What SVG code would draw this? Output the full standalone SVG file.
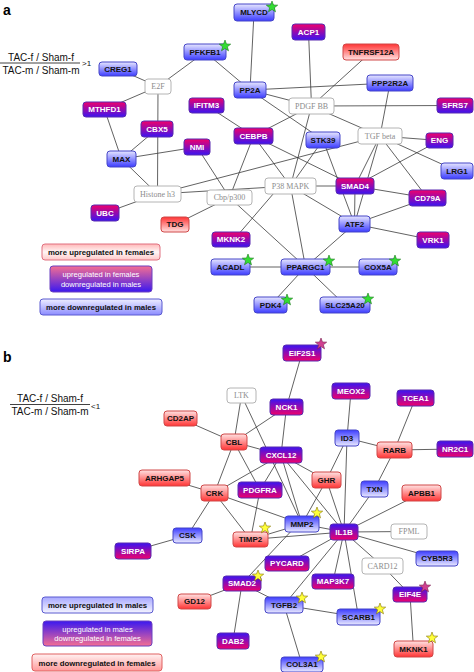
<svg xmlns="http://www.w3.org/2000/svg" xmlns:xlink="http://www.w3.org/1999/xlink" width="474" height="672" viewBox="0 0 474 672">
<defs>
<linearGradient id="gPa" x1="0" y1="0" x2="0" y2="1"><stop offset="0" stop-color="#f0006a"/><stop offset="1" stop-color="#3a14f2"/></linearGradient>
<linearGradient id="gPb" x1="0" y1="0" x2="0" y2="1"><stop offset="0" stop-color="#3a14f2"/><stop offset="1" stop-color="#f0006a"/></linearGradient>
<linearGradient id="gBa" x1="0" y1="0" x2="0" y2="1"><stop offset="0" stop-color="#e6e6ff"/><stop offset="1" stop-color="#3c3cff"/></linearGradient>
<linearGradient id="gBb" x1="0" y1="0" x2="0" y2="1"><stop offset="0" stop-color="#3c3cff"/><stop offset="1" stop-color="#eaeaff"/></linearGradient>
<linearGradient id="gRa" x1="0" y1="0" x2="0" y2="1"><stop offset="0" stop-color="#ff3434"/><stop offset="1" stop-color="#ffe2e2"/></linearGradient>
<linearGradient id="gRb" x1="0" y1="0" x2="0" y2="1"><stop offset="0" stop-color="#ffe2e2"/><stop offset="1" stop-color="#ff3434"/></linearGradient>
<linearGradient id="gL1a" x1="0" y1="0" x2="0" y2="1"><stop offset="0" stop-color="#ffb8b8"/><stop offset="0.5" stop-color="#fff6f6"/><stop offset="1" stop-color="#ffc8c8"/></linearGradient>
<linearGradient id="gL2a" x1="0" y1="0" x2="0" y2="1"><stop offset="0" stop-color="#f56e92"/><stop offset="1" stop-color="#3a18f0"/></linearGradient>
<linearGradient id="gL3a" x1="0" y1="0" x2="0" y2="1"><stop offset="0" stop-color="#eeeeff"/><stop offset="1" stop-color="#8c8cff"/></linearGradient>
<linearGradient id="gL1b" x1="0" y1="0" x2="0" y2="1"><stop offset="0" stop-color="#a8a8ff"/><stop offset="1" stop-color="#f4f4ff"/></linearGradient>
<linearGradient id="gL2b" x1="0" y1="0" x2="0" y2="1"><stop offset="0" stop-color="#3a18f0"/><stop offset="1" stop-color="#f56e92"/></linearGradient>
<linearGradient id="gL3b" x1="0" y1="0" x2="0" y2="1"><stop offset="0" stop-color="#fff2f2"/><stop offset="1" stop-color="#ff9a9a"/></linearGradient>
<path id="star" d="M0,-6 L1.47,-2.02 L5.71,-1.85 L2.38,0.77 L3.53,4.85 L0,2.5 L-3.53,4.85 L-2.38,0.77 L-5.71,-1.85 L-1.47,-2.02 Z"/>
</defs>
<style>
rect{rx:3px;ry:3px;stroke-width:1}
.pa{fill:url(#gPa);stroke:#5a2ab0}
.pb{fill:url(#gPb);stroke:#5a2ab0}
.ba{fill:url(#gBa);stroke:#4646c8}
.bb{fill:url(#gBb);stroke:#4646c8}
.ra{fill:url(#gRa);stroke:#d04848}
.rb{fill:url(#gRb);stroke:#d04848}
.gr{fill:#ffffff;stroke:#b4b4b4}
text{font-family:"Liberation Sans",Arial,sans-serif;font-size:8px;font-weight:bold;text-anchor:middle}
.w{fill:#ffffff}
.k{fill:#111111}
.gt{font-family:"Liberation Serif","Times New Roman",serif;font-weight:normal;fill:#8c8c8c}
.lab{font-size:14px;text-anchor:start;fill:#000}
.fr{font-size:10px;font-weight:normal;fill:#111}
.cmp{font-size:8px;font-weight:normal;text-anchor:start;fill:#111}
.lg{font-size:7.8px}
.lgw{font-size:7.6px;font-weight:normal;fill:#fff}
#edges line{stroke:#3a3a3a;stroke-width:0.8}
.sg{fill:#33dd33;stroke:#1c7a1c;stroke-width:0.6}
.sy{fill:#ffff3a;stroke:#857400;stroke-width:0.6}
.sp{fill:#d04090;stroke:#7a2050;stroke-width:0.6}
</style>
<rect x="0" y="0" width="474" height="672" fill="#ffffff" style="rx:0;ry:0;stroke:none"/>

<text class="lab" x="3" y="15">a</text>
<text class="fr" x="41" y="61">TAC-f / Sham-f</text>
<line x1="0" y1="63" x2="80" y2="63" stroke="#111" stroke-width="0.8"/>
<text class="fr" x="41" y="74">TAC-m / Sham-m</text>
<text class="cmp" x="82" y="66">&gt;1</text>

<text class="lab" x="3" y="362">b</text>
<text class="fr" x="50" y="402">TAC-f / Sham-f</text>
<line x1="10" y1="404.5" x2="90" y2="404.5" stroke="#111" stroke-width="0.8"/>
<text class="fr" x="50" y="415">TAC-m / Sham-m</text>
<text class="cmp" x="91" y="409">&lt;1</text>

<g id="edges">
<line x1="118" y1="69" x2="158" y2="86.5"/>
<line x1="205" y1="52" x2="158" y2="86.5"/>
<line x1="205" y1="52" x2="250" y2="90"/>
<line x1="158" y1="86.5" x2="104.5" y2="109.5"/>
<line x1="158" y1="86.5" x2="157.5" y2="194"/>
<line x1="104.5" y1="109.5" x2="121.5" y2="159"/>
<line x1="157" y1="129" x2="121.5" y2="159"/>
<line x1="121.5" y1="159" x2="197" y2="147"/>
<line x1="121.5" y1="159" x2="157.5" y2="194"/>
<line x1="197" y1="147" x2="229.5" y2="197.5"/>
<line x1="157.5" y1="194" x2="105" y2="213"/>
<line x1="157.5" y1="194" x2="290.5" y2="186"/>
<line x1="157.5" y1="194" x2="380" y2="136"/>
<line x1="206.5" y1="105.5" x2="253.5" y2="136"/>
<line x1="254" y1="12.5" x2="250" y2="90"/>
<line x1="250" y1="90" x2="390" y2="83"/>
<line x1="250" y1="90" x2="311.5" y2="106"/>
<line x1="250" y1="90" x2="323" y2="140"/>
<line x1="308.5" y1="32" x2="311.5" y2="106"/>
<line x1="371" y1="52" x2="311.5" y2="106"/>
<line x1="311.5" y1="106" x2="455" y2="105.5"/>
<line x1="311.5" y1="106" x2="253.5" y2="136"/>
<line x1="311.5" y1="106" x2="380" y2="136"/>
<line x1="311.5" y1="106" x2="290.5" y2="186"/>
<line x1="390" y1="83" x2="380" y2="136"/>
<line x1="380" y1="136" x2="439.5" y2="140.5"/>
<line x1="380" y1="136" x2="457" y2="171"/>
<line x1="380" y1="136" x2="355" y2="186"/>
<line x1="380" y1="136" x2="354.5" y2="224"/>
<line x1="380" y1="136" x2="427.5" y2="198"/>
<line x1="439.5" y1="140.5" x2="355" y2="186"/>
<line x1="253.5" y1="136" x2="229.5" y2="197.5"/>
<line x1="253.5" y1="136" x2="290.5" y2="186"/>
<line x1="253.5" y1="136" x2="355" y2="186"/>
<line x1="323" y1="140" x2="290.5" y2="186"/>
<line x1="323" y1="140" x2="354.5" y2="224"/>
<line x1="290.5" y1="186" x2="355" y2="186"/>
<line x1="290.5" y1="186" x2="354.5" y2="224"/>
<line x1="290.5" y1="186" x2="305.5" y2="267"/>
<line x1="280" y1="186" x2="234" y2="239.5"/>
<line x1="229.5" y1="197.5" x2="175" y2="224.5"/>
<line x1="229.5" y1="197.5" x2="305.5" y2="267"/>
<line x1="355" y1="186" x2="354.5" y2="224"/>
<line x1="355" y1="186" x2="427.5" y2="198"/>
<line x1="354.5" y1="224" x2="427.5" y2="198"/>
<line x1="354.5" y1="224" x2="433" y2="240"/>
<line x1="354.5" y1="224" x2="305.5" y2="267"/>
<line x1="305.5" y1="267" x2="230.5" y2="267"/>
<line x1="305.5" y1="267" x2="378" y2="267"/>
<line x1="305.5" y1="267" x2="270.5" y2="305"/>
<line x1="305.5" y1="267" x2="345" y2="305"/>

<line x1="302" y1="353" x2="286.5" y2="407"/>
<line x1="286.5" y1="407" x2="281" y2="455"/>
<line x1="241.5" y1="395.5" x2="234" y2="442"/>
<line x1="241.5" y1="395.5" x2="302" y2="524"/>
<line x1="286.5" y1="407" x2="234" y2="442"/>
<line x1="234" y1="442" x2="281" y2="455"/>
<line x1="180.5" y1="418.5" x2="234" y2="442"/>
<line x1="234" y1="442" x2="214.5" y2="493"/>
<line x1="234" y1="442" x2="260" y2="490"/>
<line x1="164.5" y1="478" x2="214.5" y2="493"/>
<line x1="214.5" y1="493" x2="281" y2="455"/>
<line x1="214.5" y1="493" x2="302" y2="524"/>
<line x1="214.5" y1="493" x2="250.5" y2="539.5"/>
<line x1="214.5" y1="493" x2="187.5" y2="535.5"/>
<line x1="187.5" y1="535.5" x2="133" y2="551"/>
<line x1="281" y1="455" x2="260" y2="490"/>
<line x1="281" y1="455" x2="302" y2="524"/>
<line x1="281" y1="455" x2="344" y2="532"/>
<line x1="281" y1="455" x2="326.5" y2="480"/>
<line x1="260" y1="490" x2="250.5" y2="539.5"/>
<line x1="326.5" y1="480" x2="302" y2="524"/>
<line x1="326.5" y1="480" x2="344" y2="532"/>
<line x1="347" y1="438" x2="326.5" y2="480"/>
<line x1="347" y1="438" x2="344" y2="532"/>
<line x1="351" y1="391" x2="347" y2="438"/>
<line x1="347" y1="438" x2="394.5" y2="450"/>
<line x1="394.5" y1="450" x2="415.5" y2="398"/>
<line x1="394.5" y1="450" x2="455" y2="449"/>
<line x1="394.5" y1="450" x2="374.5" y2="489"/>
<line x1="374.5" y1="489" x2="344" y2="532"/>
<line x1="421.5" y1="493" x2="344" y2="532"/>
<line x1="344" y1="532" x2="409" y2="531.5"/>
<line x1="344" y1="532" x2="437" y2="558.5"/>
<line x1="344" y1="532" x2="382.5" y2="566"/>
<line x1="344" y1="532" x2="358.5" y2="617"/>
<line x1="344" y1="532" x2="333" y2="581.5"/>
<line x1="344" y1="532" x2="287" y2="563.5"/>
<line x1="344" y1="532" x2="284" y2="605"/>
<line x1="344" y1="532" x2="302" y2="524"/>
<line x1="344" y1="532" x2="250.5" y2="539.5"/>
<line x1="302" y1="524" x2="250.5" y2="539.5"/>
<line x1="296" y1="526" x2="242" y2="583.5"/>
<line x1="242" y1="583.5" x2="194.5" y2="601.5"/>
<line x1="242" y1="583.5" x2="233" y2="641"/>
<line x1="242" y1="583.5" x2="284" y2="605"/>
<line x1="284" y1="605" x2="358.5" y2="617"/>
<line x1="284" y1="605" x2="302" y2="664.5"/>
<line x1="382.5" y1="566" x2="410" y2="594.5"/>
<line x1="410" y1="594.5" x2="413.5" y2="649"/>
</g>

<!-- panel a nodes -->
<g id="n-PFKFB1"><rect class="ba" x="184" y="44" width="42" height="16"/><text class="k" x="205" y="54.9">PFKFB1</text></g>
<g id="n-CREG1"><rect class="ba" x="99" y="62" width="38" height="14"/><text class="k" x="118" y="71.9">CREG1</text></g>
<g id="n-E2F"><rect class="gr" x="145" y="79" width="26" height="15"/><text class="gt" x="158" y="89.4">E2F</text></g>
<g id="n-MTHFD1"><rect class="pa" x="83" y="102" width="43" height="15"/><text class="w" x="104.5" y="112.4">MTHFD1</text></g>
<g id="n-IFITM3"><rect class="pa" x="189" y="98" width="35" height="15"/><text class="w" x="206.5" y="108.4">IFITM3</text></g>
<g id="n-CBX5"><rect class="pa" x="141" y="121" width="32" height="16"/><text class="w" x="157" y="131.9">CBX5</text></g>
<g id="n-NMI"><rect class="pa" x="184" y="139" width="26" height="16"/><text class="w" x="197" y="149.9">NMI</text></g>
<g id="n-MAX"><rect class="ba" x="107" y="151" width="29" height="16"/><text class="k" x="121.5" y="161.9">MAX</text></g>
<g id="n-MLYCD"><rect class="ba" x="234" y="4" width="40" height="17"/><text class="k" x="254" y="15.4">MLYCD</text></g>
<g id="n-ACP1"><rect class="pa" x="292" y="24" width="33" height="16"/><text class="w" x="308.5" y="34.9">ACP1</text></g>
<g id="n-TNFRSF12A"><rect class="ra" x="343" y="44" width="56" height="16"/><text class="k" x="371" y="54.9">TNFRSF12A</text></g>
<g id="n-PPP2R2A"><rect class="ba" x="367" y="75" width="46" height="16"/><text class="k" x="390" y="85.9">PPP2R2A</text></g>
<g id="n-PP2A"><rect class="ba" x="234" y="82" width="32" height="16"/><text class="k" x="250" y="92.9">PP2A</text></g>
<g id="n-PDGFBB"><rect class="gr" x="289" y="98" width="45" height="16"/><text class="gt" x="311.5" y="108.9">PDGF BB</text></g>
<g id="n-SFRS7"><rect class="pa" x="437" y="98" width="36" height="15"/><text class="w" x="455" y="108.4">SFRS7</text></g>
<g id="n-CEBPB"><rect class="pa" x="234" y="128" width="39" height="16"/><text class="w" x="253.5" y="138.9">CEBPB</text></g>
<g id="n-STK39"><rect class="ba" x="306" y="132" width="34" height="16"/><text class="k" x="323" y="142.9">STK39</text></g>
<g id="n-TGFbeta"><rect class="gr" x="358" y="128" width="44" height="16"/><text class="gt" x="380" y="138.9">TGF beta</text></g>
<g id="n-ENG"><rect class="pa" x="426" y="133" width="27" height="15"/><text class="w" x="439.5" y="143.4">ENG</text></g>
<g id="n-LRG1"><rect class="ba" x="441" y="163" width="32" height="16"/><text class="k" x="457" y="173.9">LRG1</text></g>
<g id="n-Histoneh3"><rect class="gr" x="134" y="186" width="47" height="16"/><text class="gt" x="157.5" y="196.9">Histone h3</text></g>
<g id="n-UBC"><rect class="pa" x="91" y="205" width="28" height="16"/><text class="w" x="105" y="215.9">UBC</text></g>
<g id="n-Cbp"><rect class="gr" x="207" y="190" width="45" height="15"/><text class="gt" x="229.5" y="200.4">Cbp/p300</text></g>
<g id="n-TDG"><rect class="ra" x="161" y="217" width="28" height="15"/><text class="k" x="175" y="227.4">TDG</text></g>
<g id="n-MKNK2"><rect class="pa" x="212" y="232" width="38" height="15"/><text class="w" x="231" y="242.4">MKNK2</text></g>
<g id="n-ACADL"><rect class="ba" x="211" y="259" width="39" height="16"/><text class="k" x="230.5" y="269.9">ACADL</text></g>
<g id="n-P38"><rect class="gr" x="265" y="178" width="51" height="16"/><text class="gt" x="290.5" y="188.9">P38 MAPK</text></g>
<g id="n-SMAD4"><rect class="pa" x="336" y="178" width="38" height="16"/><text class="w" x="355" y="188.9">SMAD4</text></g>
<g id="n-CD79A"><rect class="pa" x="409" y="190" width="37" height="16"/><text class="w" x="427.5" y="200.9">CD79A</text></g>
<g id="n-ATF2"><rect class="ba" x="339" y="216" width="31" height="16"/><text class="k" x="354.5" y="226.9">ATF2</text></g>
<g id="n-VRK1"><rect class="pa" x="417" y="232" width="32" height="16"/><text class="w" x="433" y="242.9">VRK1</text></g>
<g id="n-PPARGC1"><rect class="ba" x="281" y="259" width="49" height="16"/><text class="k" x="305.5" y="269.9">PPARGC1</text></g>
<g id="n-COX5A"><rect class="ba" x="359" y="259" width="38" height="16"/><text class="k" x="378" y="269.9">COX5A</text></g>
<g id="n-PDK4"><rect class="ba" x="254" y="297" width="33" height="16"/><text class="k" x="270.5" y="307.9">PDK4</text></g>
<g id="n-SLC25A20"><rect class="ba" x="320" y="297" width="50" height="16"/><text class="k" x="345" y="307.9">SLC25A20</text></g>

<g id="legend-a">
<rect x="42" y="244" width="118" height="16" fill="url(#gL1a)" stroke="#e07080"/><text class="k lg" x="101" y="255">more upregulated in females</text>
<rect x="50" y="266" width="102" height="26" fill="url(#gL2a)" stroke="#6a40c0"/><text class="lgw" x="101" y="277">upregulated in females</text><text class="lgw" x="101" y="286.5">downregulated in males</text>
<rect x="40" y="299" width="122" height="16" fill="url(#gL3a)" stroke="#5a5ad0"/><text class="k lg" x="101" y="310">more downregulated in males</text>
</g>

<!-- panel b nodes -->
<g id="n-EIF2S1"><rect class="pb" x="283" y="345" width="38" height="16"/><text class="w" x="302" y="355.9">EIF2S1</text></g>
<g id="n-LTK"><rect class="gr" x="227" y="388" width="29" height="15"/><text class="gt" x="241.5" y="398.4">LTK</text></g>
<g id="n-MEOX2"><rect class="pb" x="332" y="383" width="38" height="16"/><text class="w" x="351" y="393.9">MEOX2</text></g>
<g id="n-TCEA1"><rect class="pb" x="397" y="390" width="37" height="16"/><text class="w" x="415.5" y="400.9">TCEA1</text></g>
<g id="n-NCK1"><rect class="pb" x="270" y="399" width="33" height="16"/><text class="w" x="286.5" y="409.9">NCK1</text></g>
<g id="n-CD2AP"><rect class="rb" x="164" y="411" width="33" height="15"/><text class="k" x="180.5" y="421.4">CD2AP</text></g>
<g id="n-CBL"><rect class="rb" x="221" y="434" width="26" height="16"/><text class="k" x="234" y="444.9">CBL</text></g>
<g id="n-ID3"><rect class="bb" x="335" y="430" width="24" height="16"/><text class="k" x="347" y="440.9">ID3</text></g>
<g id="n-RARB"><rect class="rb" x="377" y="442" width="35" height="16"/><text class="k" x="394.5" y="452.9">RARB</text></g>
<g id="n-NR2C1"><rect class="pb" x="437" y="441" width="36" height="16"/><text class="w" x="455" y="451.9">NR2C1</text></g>
<g id="n-CXCL12"><rect class="pb" x="260" y="447" width="42" height="16"/><text class="w" x="281" y="457.9">CXCL12</text></g>
<g id="n-ARHGAP5"><rect class="rb" x="139" y="470" width="51" height="16"/><text class="k" x="164.5" y="480.9">ARHGAP5</text></g>
<g id="n-GHR"><rect class="rb" x="312" y="472" width="29" height="16"/><text class="k" x="326.5" y="482.9">GHR</text></g>
<g id="n-CRK"><rect class="rb" x="201" y="485" width="27" height="16"/><text class="k" x="214.5" y="495.9">CRK</text></g>
<g id="n-PDGFRA"><rect class="pb" x="238" y="482" width="44" height="16"/><text class="w" x="260" y="492.9">PDGFRA</text></g>
<g id="n-TXN"><rect class="bb" x="361" y="481" width="27" height="16"/><text class="k" x="374.5" y="491.9">TXN</text></g>
<g id="n-APBB1"><rect class="rb" x="402" y="485" width="39" height="16"/><text class="k" x="421.5" y="495.9">APBB1</text></g>
<g id="n-MMP2"><rect class="bb" x="285" y="516" width="34" height="16"/><text class="k" x="302" y="526.9">MMP2</text></g>
<g id="n-IL1B"><rect class="pb" x="330" y="524" width="28" height="16"/><text class="w" x="344" y="534.9">IL1B</text></g>
<g id="n-TIMP2"><rect class="rb" x="233" y="532" width="35" height="15"/><text class="k" x="250.5" y="542.4">TIMP2</text></g>
<g id="n-FPML"><rect class="gr" x="391" y="524" width="36" height="15"/><text class="gt" x="409" y="534.4">FPML</text></g>
<g id="n-CSK"><rect class="bb" x="173" y="528" width="29" height="15"/><text class="k" x="187.5" y="538.4">CSK</text></g>
<g id="n-SIRPA"><rect class="pb" x="115" y="543" width="36" height="16"/><text class="w" x="133" y="553.9">SIRPA</text></g>
<g id="n-CYB5R3"><rect class="bb" x="416" y="551" width="42" height="15"/><text class="k" x="437" y="561.4">CYB5R3</text></g>
<g id="n-PYCARD"><rect class="pb" x="265" y="556" width="44" height="15"/><text class="w" x="287" y="566.4">PYCARD</text></g>
<g id="n-CARD12"><rect class="gr" x="362" y="558" width="41" height="16"/><text class="gt" x="382.5" y="568.9">CARD12</text></g>
<g id="n-SMAD2"><rect class="pb" x="223" y="576" width="38" height="15"/><text class="w" x="242" y="586.4">SMAD2</text></g>
<g id="n-MAP3K7"><rect class="pb" x="312" y="574" width="42" height="15"/><text class="w" x="333" y="584.4">MAP3K7</text></g>
<g id="n-EIF4E"><rect class="pb" x="393" y="587" width="34" height="15"/><text class="w" x="410" y="597.4">EIF4E</text></g>
<g id="n-GD12"><rect class="rb" x="178" y="594" width="33" height="15"/><text class="k" x="194.5" y="604.4">GD12</text></g>
<g id="n-TGFB2"><rect class="bb" x="265" y="597" width="38" height="16"/><text class="k" x="284" y="607.9">TGFB2</text></g>
<g id="n-SCARB1"><rect class="bb" x="337" y="609" width="43" height="16"/><text class="k" x="358.5" y="619.9">SCARB1</text></g>
<g id="n-DAB2"><rect class="pb" x="217" y="633" width="32" height="16"/><text class="w" x="233" y="643.9">DAB2</text></g>
<g id="n-MKNK1"><rect class="rb" x="394" y="641" width="39" height="16"/><text class="k" x="413.5" y="651.9">MKNK1</text></g>
<g id="n-COL3A1"><rect class="bb" x="281" y="657" width="42" height="15"/><text class="k" x="302" y="667.4">COL3A1</text></g>

<g id="legend-b">
<rect x="42" y="597" width="111" height="16" fill="url(#gL1b)" stroke="#5a5ad0"/><text class="k lg" x="97.5" y="608">more upregulated in males</text>
<rect x="43" y="621" width="109" height="25" fill="url(#gL2b)" stroke="#6a40c0"/><text class="lgw" x="97.5" y="631.5">upregulated in males</text><text class="lgw" x="97.5" y="641">downregulated in females</text>
<rect x="32" y="654" width="130" height="17" fill="url(#gL3b)" stroke="#e06060"/><text class="k lg" x="97" y="665.5">more downregulated in females</text>
</g>

<g id="stars">
<use xlink:href="#star" class="sg" x="225" y="46"/>
<use xlink:href="#star" class="sg" x="272" y="7"/>
<use xlink:href="#star" class="sg" x="248" y="260"/>
<use xlink:href="#star" class="sg" x="329" y="261"/>
<use xlink:href="#star" class="sg" x="395" y="261"/>
<use xlink:href="#star" class="sg" x="287" y="300"/>
<use xlink:href="#star" class="sg" x="368" y="299"/>
<use xlink:href="#star" class="sp" x="321" y="344"/>
<use xlink:href="#star" class="sy" x="317" y="513"/>
<use xlink:href="#star" class="sy" x="265" y="528"/>
<use xlink:href="#star" class="sy" x="258" y="576"/>
<use xlink:href="#star" class="sy" x="302" y="598"/>
<use xlink:href="#star" class="sy" x="380" y="609"/>
<use xlink:href="#star" class="sp" x="425" y="587"/>
<use xlink:href="#star" class="sy" x="432" y="638"/>
<use xlink:href="#star" class="sy" x="321" y="657"/>
</g>
</svg>
